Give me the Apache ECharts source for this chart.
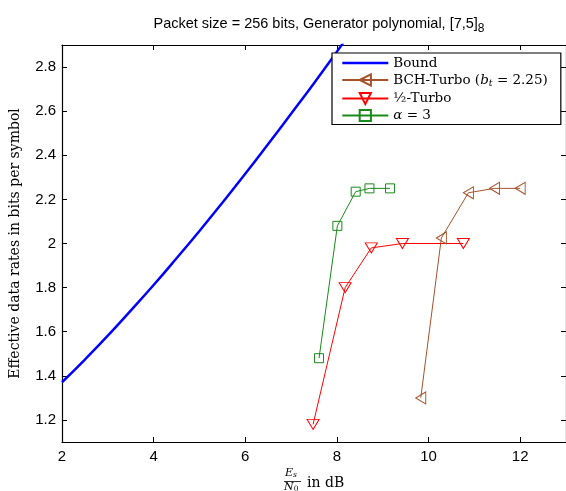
<!DOCTYPE html>
<html><head><meta charset="utf-8">
<script src="https://cdn.jsdelivr.net/npm/echarts@6/dist/echarts.min.js"></script>
<style>html,body{margin:0;padding:0;background:#fff}#c{width:566px;height:491px}</style>
</head><body><div id="c"></div>
<script>
// Bound curve
const boundX = [2, 2.5, 3, 3.5, 4, 4.5, 5, 5.5, 6, 6.5, 7, 7.5, 8, 8.5];
const boundY = [1.371, 1.474, 1.582, 1.696, 1.812, 1.933, 2.057, 2.185, 2.316, 2.451, 2.588, 2.727, 2.870, 3.014];
// BCH-Turbo (b_t = 2.25)
const bchX = [9.83, 10.28, 10.87, 11.44, 12.0];
const bchY = [1.30, 2.025, 2.23, 2.25, 2.25];
// 1/2-Turbo
const halfX = [7.48, 8.18, 8.75, 9.43, 10.76];
const halfY = [1.18, 1.80, 1.98, 2.0, 2.0];
// alpha = 3
const alphaX = [7.61, 8.01, 8.41, 8.71, 9.16];
const alphaY = [1.48, 2.08, 2.235, 2.25, 2.25];

const pairs = (xs, ys) => xs.map((x, i) => [x, ys[i]]);
const serif = 'DejaVu Serif';
const sans = 'Liberation Sans';

const chart = echarts.init(document.getElementById('c'));
chart.setOption({
  animation: false,
  title: {
    text: '{a|Packet size = 256 bits, Generator polynomial, [7,5]}{s|8}',
    left: 314, top: 8, textAlign: 'center',
    textStyle: { fontWeight: 'normal', rich: {
      a: { fontFamily: sans, fontSize: 14.5, fontWeight: 'normal', color: '#000' },
      s: { fontFamily: sans, fontSize: 12, fontWeight: 'normal', color: '#000', padding: [10, 0, 0, 0] }
    } }
  },
  grid: { left: 60, top: 45, width: 508, height: 397, show: false },
  legend: {
    orient: 'vertical', left: 332, top: 53,
    itemWidth: 46, itemHeight: 14, itemGap: 3,
    padding: [3, 13, 2, 9],
    backgroundColor: '#fff', borderColor: '#000', borderWidth: 1.2,
    textStyle: { fontFamily: serif, fontSize: 13.5, color: '#000',
      rich: {
        r: { fontFamily: serif, fontSize: 13.5, color: '#000' },
        i: { fontFamily: serif, fontSize: 13.5, fontStyle: 'italic', color: '#000' },
        s: { fontFamily: serif, fontSize: 9.5, fontStyle: 'italic', color: '#000', padding: [7, 0, 0, 0] }
      } },
    formatter: function (name) {
      if (name === 'BCH') return '{r|BCH-Turbo (}{i|b}{s|t}{r| = 2.25)}';
      if (name === 'Half') return '{r|½-Turbo}';
      if (name === 'Alpha') return '{i|α}{r| = 3}';
      return '{r|' + name + '}';
    },
    data: [{ name: 'Bound', itemStyle: { opacity: 0 }, lineStyle: { width: 2.6 } }, 'BCH', 'Half', 'Alpha']
  },
  xAxis: [{
    type: 'value', min: 2, max: 13, interval: 2, position: 'bottom',
    axisLine: { show: true, onZero: false, lineStyle: { color: '#000', width: 1.2 } },
    axisTick: { inside: true, length: 5, lineStyle: { color: '#000' } },
    axisLabel: { fontFamily: sans, fontSize: 15, color: '#000', margin: 7, showMaxLabel: false },
    splitLine: { show: false }
  }, {
    type: 'value', min: 2, max: 13, interval: 2, position: 'top',
    axisLine: { show: true, onZero: false, lineStyle: { color: '#000', width: 1.2 } },
    axisTick: { inside: true, length: 5, lineStyle: { color: '#000' } },
    axisLabel: { show: false }, splitLine: { show: false }
  }],
  yAxis: [{
    type: 'value', min: 1.1, max: 2.9, splitNumber: 9, position: 'left',
    axisLine: { show: true, onZero: false, lineStyle: { color: '#000', width: 1.2 } },
    axisTick: { inside: true, length: 5, lineStyle: { color: '#000' } },
    axisLabel: { fontFamily: sans, fontSize: 15, color: '#000', margin: 6,
      showMinLabel: false, showMaxLabel: false,
      formatter: v => (Math.round(v * 10) / 10).toString() },
    splitLine: { show: false },
    name: 'Effective data rates in bits per symbol', nameLocation: 'middle', nameGap: 40,
    nameTextStyle: { fontFamily: serif, fontSize: 14, color: '#000' }
  }, {
    type: 'value', min: 1.1, max: 2.9, splitNumber: 9, position: 'right',
    axisLine: { show: true, onZero: false, lineStyle: { color: '#000', width: 1.2 } },
    axisTick: { inside: true, length: 5, lineStyle: { color: '#000' } },
    axisLabel: { show: false }, splitLine: { show: false }
  }],
  graphic: [
    { type: 'text', left: 285, top: 468, style: { text: '{e|E}{s|s}', rich: {
      e: { fontFamily: serif, fontSize: 11, fontStyle: 'italic', fill: '#000' },
      s: { fontFamily: serif, fontSize: 7.5, fontStyle: 'italic', fill: '#000', padding: [4, 0, 0, 0] } } } },
    { type: 'line', shape: { x1: 284, y1: 481.5, x2: 301, y2: 481.5 }, style: { stroke: '#000', lineWidth: 0.8 } },
    { type: 'text', left: 284, top: 482, style: { text: '{e|N}{s|0}', rich: {
      e: { fontFamily: serif, fontSize: 11, fontStyle: 'italic', fill: '#000' },
      s: { fontFamily: serif, fontSize: 7.5, fill: '#000', padding: [4, 0, 0, 0] } } } },
    { type: 'text', left: 307, top: 476, style: { text: 'in dB', font: '14px "DejaVu Serif"', fill: '#000' } }
  ],
  series: [{
    name: 'Bound', type: 'line', data: pairs(boundX, boundY), smooth: 0.5,
    symbol: 'none',
    lineStyle: { color: '#0000ff', width: 2.5 }, itemStyle: { color: '#0000ff' }
  }, {
    name: 'BCH', type: 'line', data: pairs(bchX, bchY),
    symbol: 'triangle', symbolSize: [12, 10], symbolRotate: 90,
    lineStyle: { color: '#a5522a', width: 1 },
    itemStyle: { color: 'rgba(255,255,255,0)', borderColor: '#a5522a', borderWidth: 1 }
  }, {
    name: 'Half', type: 'line', data: pairs(halfX, halfY),
    symbol: 'triangle', symbolSize: [12, 10], symbolRotate: 180,
    lineStyle: { color: '#ff0000', width: 1 },
    itemStyle: { color: 'rgba(255,255,255,0)', borderColor: '#ff0000', borderWidth: 1 }
  }, {
    name: 'Alpha', type: 'line', data: pairs(alphaX, alphaY),
    symbol: 'rect', symbolSize: 9,
    lineStyle: { color: '#1a8a1a', width: 1 },
    itemStyle: { color: 'rgba(255,255,255,0)', borderColor: '#1a8a1a', borderWidth: 1 }
  }]
});
</script></body></html>
